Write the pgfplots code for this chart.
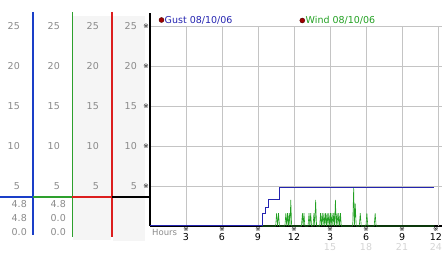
\documentclass[border=0pt]{standalone}
\usepackage{pgfplots}
\pgfplotsset{compat=1.18}
\usepackage{fontspec}
\setmainfont{DejaVu Sans}
\definecolor{gustblue}{HTML}{2424B0}
\definecolor{windgreen}{HTML}{22A022}
\definecolor{gridgray}{HTML}{C4C4C4}
\definecolor{lblgray}{HTML}{8A8A8A}
\definecolor{faintgray}{HTML}{D4D4D4}
\definecolor{panelbg}{HTML}{F5F5F5}
\definecolor{vblue}{HTML}{1A3FC8}
\definecolor{vgreen}{HTML}{2EA02E}
\definecolor{colred}{RGB}{220,30,30}
\definecolor{dotred}{HTML}{A00000}
\newcommand\refm{{\fontsize{6.5}{6.5}\selectfont ※}}
\newcommand\lf{\fontsize{9.5}{10}\selectfont}
\begin{document}
\begin{tikzpicture}
\useasboundingbox (0,0) rectangle (442pt,253pt);
\begin{scope}[x=1pt,y=-1pt,yshift=253pt]
  % left panel backgrounds
  \fill[panelbg] (72.8,16) rectangle (110.5,240);
  \fill[panelbg] (113.3,16) rectangle (145,241);
  % column scale labels
  \foreach \v in {5,10,15,20,25} {
    \pgfmathsetmacro{\yy}{226-8*\v}
    \foreach \xr in {20,60,99,137} {
      \node[anchor=east, inner sep=0pt, text=lblgray, font=\lf] at (\xr,\yy) {\v};
    }
  }
  % value readouts
  \node[anchor=east, inner sep=0pt, text=lblgray, font=\lf] at (27,204) {4.8};
  \node[anchor=east, inner sep=0pt, text=lblgray, font=\lf] at (27,218) {4.8};
  \node[anchor=east, inner sep=0pt, text=lblgray, font=\lf] at (27,232) {0.0};
  \node[anchor=east, inner sep=0pt, text=lblgray, font=\lf] at (66,204) {4.8};
  \node[anchor=east, inner sep=0pt, text=lblgray, font=\lf] at (66,218) {0.0};
  \node[anchor=east, inner sep=0pt, text=lblgray, font=\lf] at (66,232) {0.0};
  % legend
  \fill[dotred, draw=black!70!red, line width=0.4pt] (161.5,20) circle (2.5pt);
  \node[anchor=west, inner sep=0pt, text=gustblue, font=\lf] at (164.5,20) {Gust 08/10/06};
  \fill[dotred, draw=black!70!red, line width=0.4pt] (302.3,20.5) circle (2.5pt);
  \node[anchor=west, inner sep=0pt, text=windgreen, font=\lf] at (305.5,20.5) {Wind 08/10/06};
  % hours label
  \node[anchor=west, inner sep=0pt, text=lblgray, font=\fontsize{8.5}{10}\selectfont] at (152,232) {Hours};
  % vertical column lines
  \draw[draw=vblue, line width=1.2pt] (33,12) -- (33,235);
  \draw[draw=vgreen, line width=1.2pt] (72.3,12) -- (72.3,237);
  \draw[draw=colred, line width=1.5pt] (111.8,12) -- (111.8,237);
  % horizontal current-value line
  \draw[vblue, line width=2pt] (0,196.7) -- (33,196.7);
  \draw[vgreen, line width=2pt] (33,196.7) -- (72.3,196.7);
  \draw[colred, line width=2pt] (72.3,196.7) -- (111.8,196.7);
  \draw[black, line width=2pt] (111.8,196.7) -- (150,196.7);
\end{scope}
\begin{axis}[
  at={(150pt,27pt)}, anchor=south west, scale only axis,
  width=292pt, height=200pt,
  xmin=0, xmax=24.33, ymin=0, ymax=25,
  axis lines=left,
  axis line style={-, black, line width=1.3pt},
  y axis line style={shorten >=-13pt},
  xtick={3,6,...,21}, ytick={5,10,...,25},
  xticklabels={{\refm\\[-1.5pt]3},{\refm\\[-1.5pt]6},{\refm\\[-1.5pt]9},{\refm\\[-1.5pt]12},
    {\refm\\[-1.5pt]3\\[0.5pt]\textcolor{faintgray}{15}},{\refm\\[-1.5pt]6\\[0.5pt]\textcolor{faintgray}{18}},
    {\refm\\[-1.5pt]9\\[0.5pt]\textcolor{faintgray}{21}}},
  extra x ticks={24},
  extra x tick labels={{\refm\\[-1.5pt]12\\[0.5pt]\textcolor{faintgray}{24}}},
  extra x tick style={grid=major, xticklabel style={anchor=north east, xshift=4pt}},
  yticklabels={\refm,\refm,\refm,\refm,\refm},
  xticklabel style={font=\lf, align=center, inner sep=0pt, yshift=-1pt},
  yticklabel style={inner sep=0pt, xshift=-1pt},
  major tick length=0pt,
  grid=major, grid style={gridgray, line width=0.6pt},
  clip=false,
  /pgf/number format/assume math mode=true,
]
\addplot[windgreen, line width=0.6pt] coordinates {
(9.3,0) (10.47,0) (10.55,1.6) (10.63,0) (10.71,1.6) (10.79,0)
(11.24,0) (11.32,1.6) (11.39,0) (11.46,1.6) (11.53,0) (11.6,1.6) (11.66,0) (11.73,3.25) (11.8,0)
(12.62,0) (12.7,1.6) (12.76,0) (12.83,1.6) (12.9,0)
(13.17,0) (13.25,1.6) (13.32,0) (13.39,1.6) (13.46,0)
(13.59,0) (13.66,1.6) (13.73,0) (13.8,3.25) (13.88,0)
(14.14,0) (14.21,1.6) (14.28,0) (14.35,1.6) (14.42,0) (14.49,1.6) (14.56,0) (14.63,1.6) (14.7,0)
(14.76,1.6) (14.83,0) (14.9,1.6) (14.97,0) (15.04,1.6) (15.1,0) (15.17,1.6) (15.24,0)
(15.31,1.6) (15.38,0) (15.45,3.25) (15.52,0) (15.59,1.6) (15.66,0) (15.73,1.6) (15.8,0) (15.87,1.6) (15.94,0)
(16.89,0) (16.97,4.8) (17.03,0) (17.1,2.8) (17.18,0)
(17.44,0) (17.52,1.6) (17.6,0)
(17.99,0) (18.07,1.6) (18.15,0)
(18.68,0) (18.76,1.6) (18.84,0)
(23.7,0)
};
\addplot[gustblue, line width=1pt] coordinates {
(0,0) (9.34,0) (9.34,1.6) (9.61,1.6) (9.61,2.3) (9.89,2.3) (9.89,3.25)
(10.77,3.25) (10.77,4.8) (23.7,4.8)
};
\end{axis}
\end{tikzpicture}
\end{document}
